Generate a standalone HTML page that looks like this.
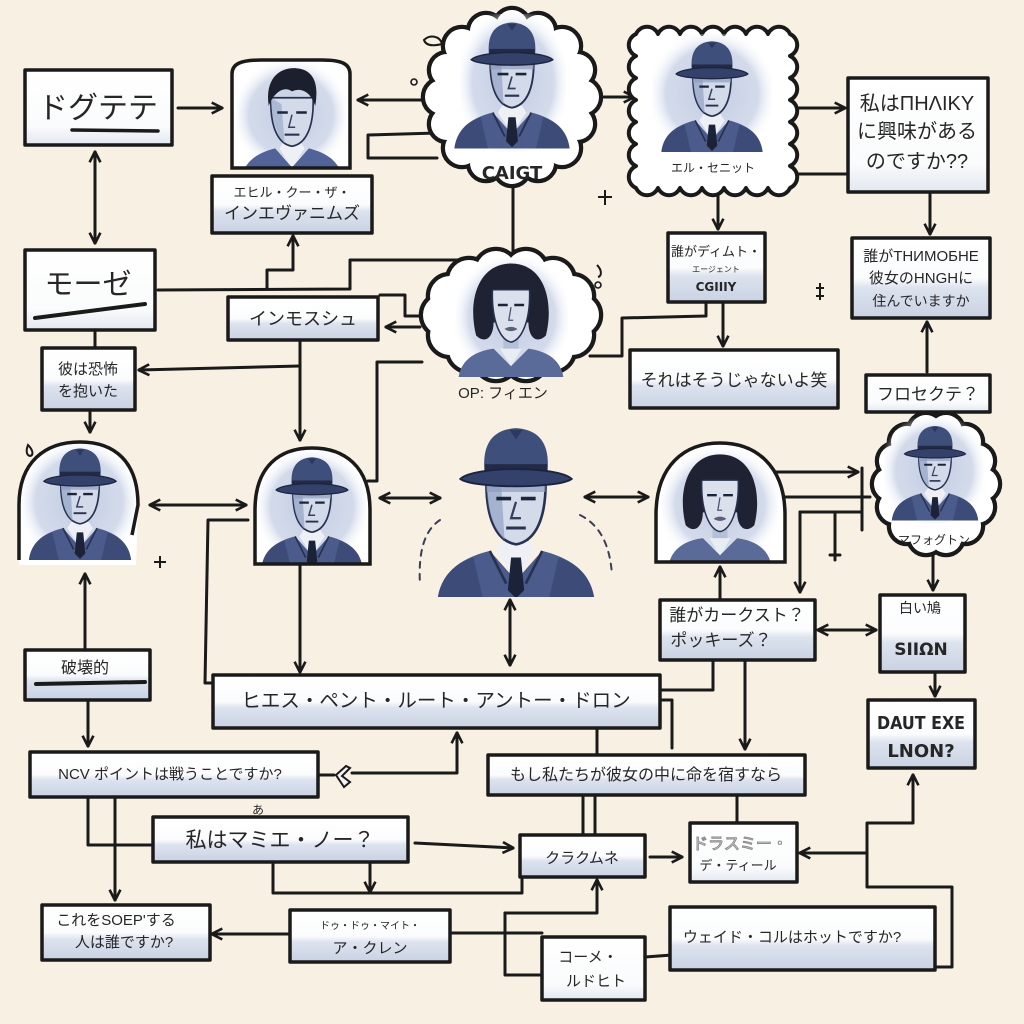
<!DOCTYPE html>
<html><head><meta charset="utf-8">
<style>
html,body{margin:0;padding:0;background:#f8f1e3;}
svg{display:block;}
text{font-family:"Liberation Sans","Noto Sans CJK JP",sans-serif;fill:#262626;}
.b{font-family:"DejaVu Sans","Noto Sans CJK JP",sans-serif;font-weight:bold;}
</style></head><body>
<svg width="1024" height="1024" viewBox="0 0 1024 1024" xmlns="http://www.w3.org/2000/svg">
<defs>
<linearGradient id="bx" x1="0" y1="0" x2="0" y2="1">
<stop offset="0" stop-color="#ffffff"/><stop offset="0.5" stop-color="#fbfcfd"/><stop offset="0.62" stop-color="#dde3ee"/><stop offset="1" stop-color="#c9d2e4"/>
</linearGradient>
<linearGradient id="bx2" x1="0" y1="0" x2="0" y2="1">
<stop offset="0" stop-color="#ffffff"/><stop offset="0.75" stop-color="#fafbfc"/><stop offset="1" stop-color="#e2e7f0"/>
</linearGradient>
<radialGradient id="pbg" cx="0.5" cy="0.5" r="0.55">
<stop offset="0" stop-color="#c3cde3"/><stop offset="0.7" stop-color="#d3dbeb"/><stop offset="1" stop-color="#ffffff" stop-opacity="0"/>
</radialGradient>
<marker id="ar" viewBox="0 0 12 12" refX="10.5" refY="6" markerWidth="13" markerHeight="13" markerUnits="userSpaceOnUse" orient="auto-start-reverse">
<path d="M1,1 L11,6 L1,11" fill="none" stroke="#1a1a1a" stroke-width="2.4" stroke-linejoin="round"/>
</marker>
<symbol id="hm" viewBox="0 0 100 110">
<path d="M2,110 C4,92 18,84 34,80 L50,98 L66,80 C82,84 96,92 98,110 Z" fill="#4b5c8c"/>
<path d="M2,110 C4,96 12,88 24,84 L30,110 Z" fill="#3c4b78"/>
<path d="M98,110 C96,96 88,88 76,84 L70,110 Z" fill="#3c4b78"/>
<rect x="42" y="62" width="16" height="18" fill="#aab6d2"/>
<path d="M38,80 L50,98 L62,80 L58,74 L42,74 Z" fill="#eef0f5"/>
<path d="M47,84 L53,84 L55,104 L50,109 L45,104 Z" fill="#1c2238"/>
<path d="M34,80 L44,100 M66,80 L56,100" stroke="#26304f" stroke-width="1.6" fill="none"/>
<path d="M32,34 C31,60 38,74 50,76 C62,74 69,60 68,34 Z" fill="#d3dbea" stroke="#283250" stroke-width="1.6"/>
<path d="M32,34 C32,56 36,66 43,73 L41,40 Z" fill="#9aa8c9" opacity="0.8"/>
<rect x="32" y="34" width="36" height="10" fill="#8d9cc0" opacity="0.7"/>
<path d="M38,48 h9 M53,48 h9" stroke="#1e2438" stroke-width="2.2"/>
<path d="M50,50 L47,60 L53,60" stroke="#34405f" stroke-width="1.4" fill="none"/>
<path d="M44,66 h12" stroke="#2a3350" stroke-width="1.8"/>
<path d="M31,34 C29,18 33,6 50,5 C67,6 71,18 69,34 Z" fill="#3f4f7c"/>
<path d="M46,6 L50,12 L54,6" fill="#2c3860"/>
<rect x="31" y="27" width="38" height="7" fill="#222a45"/>
<path d="M16,36 C24,28 76,28 84,36 C76,42 24,42 16,36 Z" fill="#34426b" stroke="#1d2440" stroke-width="1.2"/>
</symbol>
<symbol id="ym" viewBox="0 0 100 110">
<path d="M2,110 C4,92 18,84 34,80 L50,98 L66,80 C82,84 96,92 98,110 Z" fill="#52639a"/>
<rect x="42" y="62" width="16" height="18" fill="#aab6d2"/>
<path d="M38,80 L50,98 L62,80 L58,74 L42,74 Z" fill="#eef0f5"/>
<path d="M30,32 C29,60 37,76 50,78 C63,76 71,60 70,32 Z" fill="#d3dbea" stroke="#283250" stroke-width="1.6"/>
<path d="M30,32 C31,56 36,68 43,75 L40,38 Z" fill="#a3b0cf" opacity="0.8"/>
<path d="M36,46 h10 M54,46 h10" stroke="#1e2438" stroke-width="2.4"/>
<path d="M50,48 L47,60 L53,60" stroke="#34405f" stroke-width="1.4" fill="none"/>
<path d="M43,67 h14" stroke="#2a3350" stroke-width="2"/>
<path d="M28,40 C24,14 38,3 54,4 C70,5 76,18 72,40 C68,26 58,22 50,26 C42,20 32,28 28,40 Z" fill="#1b1f2e"/>
</symbol>
<symbol id="wm" viewBox="0 0 100 110">
<path d="M2,110 C5,92 20,86 34,84 L50,100 L66,84 C80,86 95,92 98,110 Z" fill="#5a6b9a"/>
<path d="M18,72 C10,40 20,6 50,6 C80,6 90,40 82,72 C74,80 66,74 66,60 L34,60 C34,74 26,80 18,72 Z" fill="#1e2233"/>
<rect x="43" y="64" width="14" height="22" fill="#b4bfd8"/>
<path d="M40,84 L50,100 L60,84 Z" fill="#e8ecf3"/>
<path d="M33,30 C32,58 40,76 50,78 C60,76 68,58 67,30 Z" fill="#dae0ec" stroke="#283250" stroke-width="1.4"/>
<path d="M26,36 C28,12 72,12 74,36 C66,26 58,28 50,24 C42,28 34,26 26,36 Z" fill="#1e2233"/>
<path d="M38,44 h9 M53,44 h9" stroke="#1e2438" stroke-width="2.2"/>
<path d="M50,46 L48,58 L52,58" stroke="#4a5472" stroke-width="1.2" fill="none"/>
<path d="M44,66 Q50,62 56,66 Q50,70 44,66 Z" fill="#59607a"/>
</symbol>
<clipPath id="c1"><path d="M232,168 L232,74 C232,64 240,60 262,60 L322,60 C342,60 350,64 350,74 L350,168 Z"/></clipPath>
<clipPath id="c2"><path d="M19,565 L19,505 C19,462 45,442 80,442 C115,442 138,462 138,505 L136,565 Z"/></clipPath>
<clipPath id="c3"><path d="M255,564 L255,510 C255,466 280,448 312,448 C344,448 370,466 370,510 L370,564 Z"/></clipPath>
<clipPath id="c4"><path d="M656,562 L656,515 C656,465 685,443 720,443 C755,443 785,465 785,515 L785,562 Z"/></clipPath>
<clipPath id="c5"><rect x="400" y="410" width="230" height="187"/></clipPath>
</defs>

<rect width="1024" height="1024" fill="#f8f1e3"/>

<!-- ================= CONNECTORS ================= -->
<g fill="none" stroke="#1a1a1a" stroke-width="3" stroke-linejoin="round" stroke-linecap="round">
<path d="M178,108 L222,108" marker-end="url(#ar)"/>
<path d="M95,152 L95,243" marker-start="url(#ar)" marker-end="url(#ar)"/>
<path d="M432,100 L358,100" marker-end="url(#ar)"/>
<path d="M437,133 L368,135 L368,158 L437,158"/>
<path d="M604,97 L634,97" marker-end="url(#ar)"/>
<path d="M798,108 L845,108" marker-end="url(#ar)"/>
<path d="M795,174 L848,174"/>
<path d="M513,187 L513,252"/>
<path d="M718,196 L718,229" marker-end="url(#ar)"/>
<path d="M723,303 L723,346" marker-end="url(#ar)"/>
<path d="M706,303 L706,316 L622,318 L622,356 L590,356"/>
<path d="M930,194 L930,234" marker-end="url(#ar)"/>
<path d="M927,372 L927,322" marker-end="url(#ar)"/>
<path d="M158,290 L350,289 L350,260 L462,260"/>
<path d="M267,289 L267,270 L293,270 L293,236" marker-end="url(#ar)"/>
<path d="M420,327 L386,327" marker-end="url(#ar)"/>
<path d="M380,295 L405,295 L405,316 L428,316"/>
<path d="M422,362 L377,362 L377,481 L368,481"/>
<path d="M300,342 L300,440" marker-end="url(#ar)"/>
<path d="M300,366 L139,370" marker-end="url(#ar)"/>
<path d="M90,410 L90,432" marker-end="url(#ar)"/>
<path d="M95,330 L95,348"/>
<path d="M150,505 L246,505" marker-start="url(#ar)" marker-end="url(#ar)"/>
<path d="M380,498 L440,498" marker-start="url(#ar)" marker-end="url(#ar)"/>
<path d="M585,497 L648,497" marker-start="url(#ar)" marker-end="url(#ar)"/>
<path d="M775,472 L858,472" marker-end="url(#ar)"/>
<path d="M785,497 L870,497"/>
<path d="M800,512 L862,512"/>
<path d="M800,512 L800,592" marker-end="url(#ar)"/>
<path d="M862,468 L862,530"/>
<path d="M835,512 L835,560 M830,555 L840,555"/>
<path d="M933,556 L933,590" marker-end="url(#ar)"/>
<path d="M818,630 L876,630" marker-start="url(#ar)" marker-end="url(#ar)"/>
<path d="M720,600 L720,567" marker-end="url(#ar)"/>
<path d="M745,662 L745,749" marker-end="url(#ar)"/>
<path d="M713,662 L713,690 L660,690"/>
<path d="M935,672 L935,696" marker-end="url(#ar)"/>
<path d="M88,700 L88,746" marker-end="url(#ar)"/>
<path d="M85,648 L85,574" marker-end="url(#ar)"/>
<path d="M300,565 L300,672" marker-end="url(#ar)"/>
<path d="M248,520 L208,520 L205,683 L213,683"/>
<path d="M510,600 L510,665" marker-start="url(#ar)" marker-end="url(#ar)"/>
<path d="M318,775 L334,775"/>
<path d="M352,773 L457,773 L457,733" marker-end="url(#ar)"/>
<path d="M88,797 L88,845 L153,845"/>
<path d="M115,797 L115,900" marker-end="url(#ar)"/>
<path d="M415,843 L513,848" marker-end="url(#ar)"/>
<path d="M273,862 L273,893 L522,893 L522,877"/>
<path d="M370,862 L370,892" marker-end="url(#ar)"/>
<path d="M288,934 L212,934" marker-end="url(#ar)"/>
<path d="M450,933 L542,933"/>
<path d="M505,913 L505,975 L542,975"/>
<path d="M505,913 L597,913 L597,880" marker-end="url(#ar)"/>
<path d="M645,957 L672,955"/>
<path d="M935,967 L952,967 L952,887 L867,887 L867,823 L913,823 L913,775" marker-end="url(#ar)"/>
<path d="M865,853 L800,853" marker-end="url(#ar)"/>
<path d="M583,797 L583,837 M595,797 L595,837"/>
<path d="M737,795 L737,823"/>
<path d="M597,728 L597,755"/>
<path d="M662,700 L672,700 L672,748"/>
<path d="M650,857 L682,857" marker-end="url(#ar)"/>
</g>
<path d="M346,766 L336,775 L344,787 L350,782 L342,776 L350,768 Z" fill="#f4f4f4" stroke="#1a1a1a" stroke-width="2"/>

<!-- ================= BOXES ================= -->
<g stroke="#1a1a1a" stroke-width="3.5" stroke-linejoin="round">
<rect x="25" y="70" width="147" height="75" fill="url(#bx2)"/>
<rect x="212" y="176" width="160" height="57" fill="url(#bx)"/>
<rect x="848" y="78" width="140" height="114" fill="url(#bx2)"/>
<rect x="668" y="233" width="97" height="69" fill="url(#bx)"/>
<rect x="852" y="238" width="138" height="80" fill="url(#bx)"/>
<rect x="25" y="250" width="130" height="80" fill="url(#bx2)"/>
<rect x="228" y="297" width="150" height="43" fill="url(#bx)"/>
<rect x="42" y="348" width="93" height="62" fill="url(#bx)"/>
<rect x="630" y="350" width="208" height="58" fill="url(#bx)"/>
<rect x="866" y="375" width="124" height="37" fill="url(#bx2)"/>
<rect x="25" y="650" width="125" height="50" fill="url(#bx)"/>
<rect x="213" y="675" width="447" height="53" fill="url(#bx)"/>
<rect x="660" y="600" width="155" height="60" fill="url(#bx)"/>
<rect x="880" y="595" width="85" height="77" fill="url(#bx)"/>
<rect x="868" y="700" width="107" height="68" fill="url(#bx)"/>
<rect x="30" y="752" width="288" height="45" fill="url(#bx)"/>
<rect x="488" y="755" width="317" height="40" fill="url(#bx)"/>
<rect x="153" y="817" width="255" height="45" fill="url(#bx)"/>
<rect x="520" y="835" width="125" height="42" fill="url(#bx)"/>
<rect x="690" y="823" width="107" height="59" fill="url(#bx2)"/>
<rect x="42" y="905" width="168" height="55" fill="url(#bx)"/>
<rect x="290" y="910" width="160" height="52" fill="url(#bx)"/>
<rect x="542" y="937" width="103" height="63" fill="url(#bx2)"/>
<rect x="670" y="907" width="265" height="63" fill="url(#bx)"/>
</g>
<path d="M72,130 L158,131" stroke="#1a1a1a" stroke-width="3.5" stroke-linecap="round"/>
<path d="M35,318 L145,304" stroke="#1a1a1a" stroke-width="4" stroke-linecap="round"/>
<path d="M36,684 L145,682" stroke="#1a1a1a" stroke-width="4" stroke-linecap="round"/>

<!-- ================= CLOUDS ================= -->
<!-- C1 CAIGT -->
<g>
<g fill="#fff" stroke="#1a1a1a" stroke-width="4.5">
<circle cx="582" cy="97" r="19"/><circle cx="577" cy="124" r="18"/><circle cx="562" cy="148" r="19"/><circle cx="538" cy="163" r="18"/><circle cx="512" cy="168" r="18"/><circle cx="486" cy="163" r="18"/><circle cx="462" cy="148" r="19"/><circle cx="447" cy="124" r="18"/><circle cx="442" cy="97" r="19"/><circle cx="447" cy="70" r="18"/><circle cx="462" cy="46" r="19"/><circle cx="486" cy="31" r="18"/><circle cx="512" cy="26" r="18"/><circle cx="538" cy="31" r="18"/><circle cx="562" cy="46" r="19"/><circle cx="577" cy="70" r="18"/>
</g>
<g fill="#fff">
<circle cx="582" cy="97" r="17"/><circle cx="577" cy="124" r="16"/><circle cx="562" cy="148" r="17"/><circle cx="538" cy="163" r="16"/><circle cx="512" cy="168" r="16"/><circle cx="486" cy="163" r="16"/><circle cx="462" cy="148" r="17"/><circle cx="447" cy="124" r="16"/><circle cx="442" cy="97" r="17"/><circle cx="447" cy="70" r="16"/><circle cx="462" cy="46" r="17"/><circle cx="486" cy="31" r="16"/><circle cx="512" cy="26" r="16"/><circle cx="538" cy="31" r="16"/><circle cx="562" cy="46" r="17"/><circle cx="577" cy="70" r="16"/>
<ellipse cx="512" cy="97" rx="72" ry="72"/>
</g>
<rect x="460" y="14" width="106" height="138" fill="url(#pbg)"/>
<use href="#hm" x="452" y="15" width="120" height="135" preserveAspectRatio="none"/>
</g>
<!-- C2 エル・セニット (rectangular wavy cloud) -->
<g>
<path d="M636,34 a12,12 0 0 1 22,0 a12,12 0 0 1 22,0 a12,12 0 0 1 22,0 a12,12 0 0 1 22,0 a12,12 0 0 1 22,0 a12,12 0 0 1 22,0 a12,12 0 0 1 22,0 a12,12 0 0 1 0,22 a12,12 0 0 1 0,22 a12,12 0 0 1 0,22 a12,12 0 0 1 0,22 a12,12 0 0 1 0,22 a12,12 0 0 1 0,22 a12,12 0 0 1 0,22 a12,12 0 0 1 -22,0 a12,12 0 0 1 -22,0 a12,12 0 0 1 -22,0 a12,12 0 0 1 -22,0 a12,12 0 0 1 -22,0 a12,12 0 0 1 -22,0 a12,12 0 0 1 -22,0 a12,12 0 0 1 0,-22 a12,12 0 0 1 0,-22 a12,12 0 0 1 0,-22 a12,12 0 0 1 0,-22 a12,12 0 0 1 0,-22 a12,12 0 0 1 0,-22 a12,12 0 0 1 0,-22 Z" fill="#fff" stroke="#1a1a1a" stroke-width="4" stroke-linejoin="round"/>
<rect x="652" y="34" width="120" height="120" fill="url(#pbg)"/>
<use href="#hm" x="656" y="36" width="112" height="116" preserveAspectRatio="none"/>
</g>
<!-- C3 woman -->
<g>
<g fill="#fff" stroke="#1a1a1a" stroke-width="4.5">
<circle cx="579" cy="315" r="22"/><circle cx="572" cy="335" r="22"/><circle cx="553" cy="350" r="22"/><circle cx="526" cy="359" r="22"/><circle cx="496" cy="359" r="22"/><circle cx="469" cy="350" r="22"/><circle cx="450" cy="335" r="22"/><circle cx="443" cy="315" r="22"/><circle cx="450" cy="296" r="22"/><circle cx="469" cy="280" r="22"/><circle cx="496" cy="271" r="22"/><circle cx="526" cy="271" r="22"/><circle cx="553" cy="280" r="22"/><circle cx="572" cy="296" r="22"/>
</g>
<g fill="#fff">
<circle cx="579" cy="315" r="20"/><circle cx="572" cy="335" r="20"/><circle cx="553" cy="350" r="20"/><circle cx="526" cy="359" r="20"/><circle cx="496" cy="359" r="20"/><circle cx="469" cy="350" r="20"/><circle cx="450" cy="335" r="20"/><circle cx="443" cy="315" r="20"/><circle cx="450" cy="296" r="20"/><circle cx="469" cy="280" r="20"/><circle cx="496" cy="271" r="20"/><circle cx="526" cy="271" r="20"/><circle cx="553" cy="280" r="20"/><circle cx="572" cy="296" r="20"/>
<ellipse cx="511" cy="315" rx="70" ry="47"/>
</g>
<rect x="456" y="258" width="112" height="118" fill="url(#pbg)"/>
<use href="#wm" x="452" y="257" width="118" height="120" preserveAspectRatio="none"/>
</g>
<!-- C4 マフォグトン -->
<g>
<g fill="#fff" stroke="#1a1a1a" stroke-width="4.5">
<circle cx="982" cy="484" r="18"/><circle cx="977" cy="507" r="18"/><circle cx="965" cy="526" r="18"/><circle cx="946" cy="537" r="18"/><circle cx="926" cy="537" r="18"/><circle cx="907" cy="526" r="18"/><circle cx="895" cy="507" r="18"/><circle cx="890" cy="484" r="18"/><circle cx="895" cy="461" r="18"/><circle cx="907" cy="442" r="18"/><circle cx="926" cy="431" r="18"/><circle cx="946" cy="431" r="18"/><circle cx="965" cy="442" r="18"/><circle cx="977" cy="461" r="18"/>
</g>
<g fill="#fff">
<circle cx="982" cy="484" r="16"/><circle cx="977" cy="507" r="16"/><circle cx="965" cy="526" r="16"/><circle cx="946" cy="537" r="16"/><circle cx="926" cy="537" r="16"/><circle cx="907" cy="526" r="16"/><circle cx="895" cy="507" r="16"/><circle cx="890" cy="484" r="16"/><circle cx="895" cy="461" r="16"/><circle cx="907" cy="442" r="16"/><circle cx="926" cy="431" r="16"/><circle cx="946" cy="431" r="16"/><circle cx="965" cy="442" r="16"/><circle cx="977" cy="461" r="16"/>
<ellipse cx="936" cy="484" rx="48" ry="56"/>
</g>
<rect x="884" y="418" width="100" height="106" fill="url(#pbg)"/>
<use href="#hm" x="890" y="420" width="90" height="102" preserveAspectRatio="none"/>
</g>

<!-- ================= DOMES / PORTRAITS ================= -->
<g clip-path="url(#c1)">
<rect x="230" y="55" width="122" height="115" fill="#fff"/>
<rect x="236" y="62" width="110" height="106" fill="url(#pbg)"/>
<use href="#ym" x="236" y="64" width="112" height="116" preserveAspectRatio="none"/>
</g>
<path d="M232,168 L232,74 C232,64 240,60 262,60 L322,60 C342,60 350,64 350,74 L350,168 Z" fill="none" stroke="#1a1a1a" stroke-width="3.5"/>
<g clip-path="url(#c2)">
<rect x="15" y="440" width="130" height="130" fill="#fff"/>
<rect x="22" y="444" width="114" height="116" fill="url(#pbg)"/>
<use href="#hm" x="24" y="443" width="112" height="117" preserveAspectRatio="none"/>
</g>
<path d="M19,560 L19,505 C19,462 45,442 80,442 C115,442 138,462 138,505 L132,535" fill="none" stroke="#1a1a1a" stroke-width="3.5"/>
<g clip-path="url(#c3)">
<rect x="250" y="445" width="125" height="125" fill="#fff"/>
<rect x="258" y="452" width="108" height="110" fill="url(#pbg)"/>
<use href="#hm" x="258" y="452" width="108" height="116" preserveAspectRatio="none"/>
</g>
<path d="M255,564 L255,510 C255,466 280,448 312,448 C344,448 370,466 370,510 L370,564 Z" fill="none" stroke="#1a1a1a" stroke-width="3.5"/>
<g clip-path="url(#c4)">
<rect x="650" y="440" width="140" height="130" fill="#fff"/>
<rect x="662" y="450" width="116" height="110" fill="url(#pbg)"/>
<use href="#wm" x="662" y="448" width="116" height="118" preserveAspectRatio="none"/>
</g>
<path d="M656,562 L656,515 C656,465 685,443 720,443 C755,443 785,465 785,515 L785,562 Z" fill="none" stroke="#1a1a1a" stroke-width="3.5"/>
<g clip-path="url(#c5)">
<use href="#hm" x="425" y="420" width="182" height="180" preserveAspectRatio="none"/>
</g>
<g fill="none" stroke="#3a3f55" stroke-width="2" stroke-dasharray="6 6" stroke-linecap="round">
<path d="M440,520 C425,530 418,550 420,585"/>
<path d="M580,515 C600,525 610,545 612,575"/>
</g>

<!-- decorations -->
<g fill="none" stroke="#1a1a1a" stroke-width="2">
<path d="M424,40 C430,34 440,36 442,44 C434,46 426,46 424,40 Z"/>
<path d="M28,445 C26,450 26,455 30,456 C34,455 33,450 28,445 Z"/>
<path d="M597,265 C602,270 602,276 598,277"/>
<path d="M605,190 L605,205 M598,197 L612,197"/>
<path d="M160,556 L160,568 M154,562 L166,562"/>
<path d="M820,283 L820,300 M816,288 L824,288 M816,296 L824,296"/>
</g>
<circle cx="414" cy="82" r="3" fill="none" stroke="#1a1a1a" stroke-width="1.6"/>
<circle cx="598" cy="285" r="3" fill="none" stroke="#1a1a1a" stroke-width="1.6"/>

<!-- ================= TEXT ================= -->
<g text-anchor="middle">
<text x="98" y="118" font-size="30">ドグテテ</text>
<text x="292" y="197" font-size="13">エヒル・クー・ザ・</text>
<text x="292" y="219" font-size="17">インエヴァニムズ</text>
<text x="512" y="179" font-size="18" class="b">CAIGT</text>
<text x="713" y="172" font-size="12">エル・セニット</text>
<text x="917" y="110" font-size="20">私はΠΗΛΙΚΥ</text>
<text x="917" y="138" font-size="20">に興味がある</text>
<text x="917" y="168" font-size="20">のですか??</text>
<text x="716" y="256" font-size="13">誰がディムト・</text>
<text x="716" y="272" font-size="8">エージェント</text>
<text x="716" y="291" font-size="12" class="b">CGIIIY</text>
<text x="921" y="261" font-size="15">誰がTHИMOБHE</text>
<text x="921" y="283" font-size="15">彼女のHNGHに</text>
<text x="921" y="306" font-size="14">住んでいますか</text>
<text x="88" y="294" font-size="29">モーゼ</text>
<text x="303" y="325" font-size="18">インモスシュ</text>
<text x="503" y="398" font-size="15">OP: フィエン</text>
<text x="88" y="374" font-size="15">彼は恐怖</text>
<text x="88" y="396" font-size="15">を抱いた</text>
<text x="734" y="386" font-size="17">それはそうじゃないよ笑</text>
<text x="928" y="400" font-size="17">フロセクテ？</text>
<text x="934" y="544" font-size="12">マフォグトン</text>
<text x="85" y="673" font-size="16">破壊的</text>
<text x="436" y="707" font-size="19.5">ヒエス・ペント・ルート・アントー・ドロン</text>
<text x="737" y="621" font-size="17">誰がカークスト？</text>
<text x="721" y="646" font-size="17">ポッキーズ？</text>
<text x="920" y="613" font-size="14">白い鳩</text>
<text x="921" y="655" font-size="17" class="b">SIIΩN</text>
<text x="921" y="729" font-size="18" class="b" textLength="88" lengthAdjust="spacingAndGlyphs">DAUT EXE</text>
<text x="921" y="757" font-size="18" class="b">LNON?</text>
<text x="170" y="779" font-size="15">NCV ポイントは戦うことですか?</text>
<text x="646" y="780" font-size="16">もし私たちが彼女の中に命を宿すなら</text>
<text x="258" y="814" font-size="12">あ</text>
<text x="280" y="847" font-size="21">私はマミエ・ノー？</text>
<text x="582" y="863" font-size="15">クラクムネ</text>
<text x="740" y="849" font-size="16" style="fill:none;stroke:#8a8a8a;stroke-width:1">ドラスミー・</text>
<text x="738" y="870" font-size="13">デ・ティール</text>
<text x="116" y="925" font-size="15">これをSOEP'する</text>
<text x="124" y="947" font-size="15">人は誰ですか?</text>
<text x="370" y="929" font-size="10">ドゥ・ドゥ・マイト・</text>
<text x="370" y="953" font-size="15">ア・クレン</text>
<text x="588" y="962" font-size="15">コーメ・</text>
<text x="596" y="986" font-size="15">ルドヒト</text>
<text x="792" y="942" font-size="15">ウェイド・コルはホットですか?</text>
</g>
</svg>
</body></html>
